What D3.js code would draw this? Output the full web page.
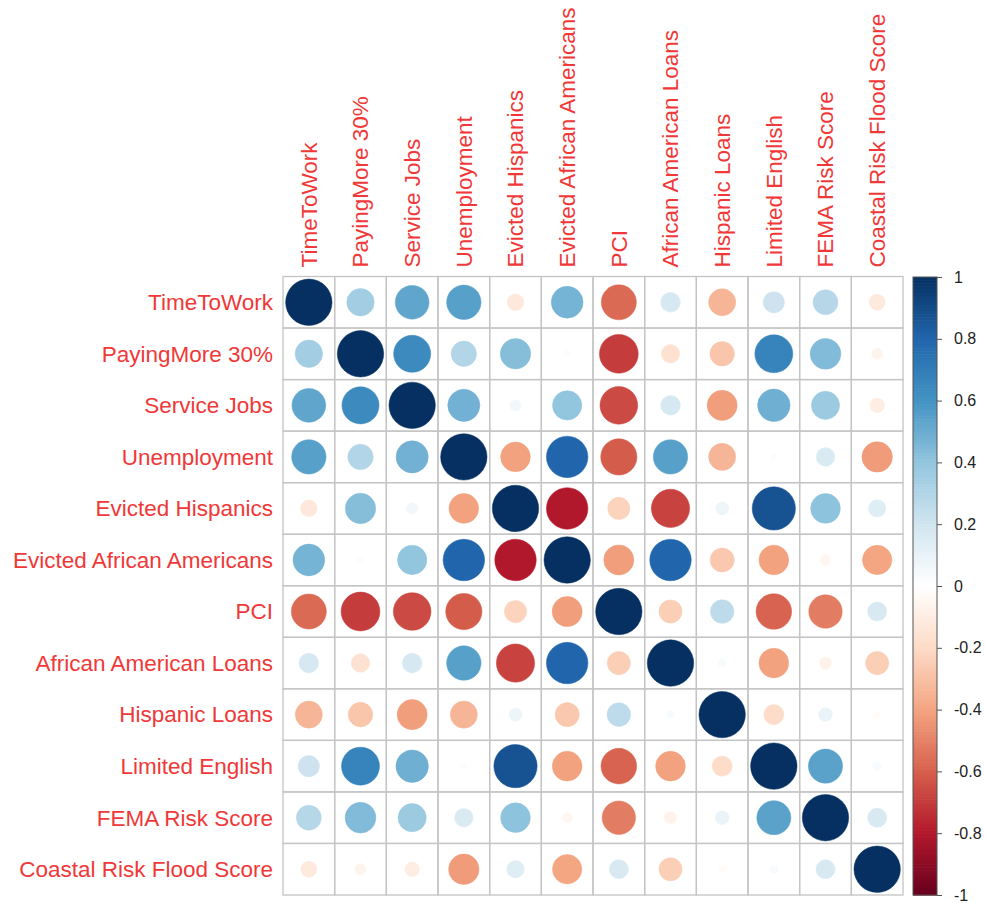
<!DOCTYPE html>
<html>
<head>
<meta charset="utf-8">
<script src="https://cdn.jsdelivr.net/npm/d3@7"></script>
<style>
  html, body { margin: 0; padding: 0; background: #ffffff; }
  svg { display: block; }
  text { font-family: "Liberation Sans", Arial, sans-serif; }
</style>
</head>
<body>
<svg id="chart" width="985" height="903"></svg>
<script>
// Variables shown on both axes (same order for rows and columns)
const variables = [
  "TimeToWork", "PayingMore 30%", "Service Jobs", "Unemployment",
  "Evicted Hispanics", "Evicted African Americans", "PCI",
  "African American Loans", "Hispanic Loans", "Limited English",
  "FEMA Risk Score", "Coastal Risk Flood Score"
];

// Pearson correlation matrix, one row per variable
const correlations = [
  [ 1.00,  0.35,  0.53,  0.55, -0.13,  0.47, -0.57,  0.18, -0.34,  0.21,  0.29, -0.12],
  [ 0.35,  1.00,  0.64,  0.30,  0.43,  0.02, -0.70, -0.16, -0.28,  0.67,  0.44, -0.06],
  [ 0.53,  0.64,  1.00,  0.48,  0.06,  0.40, -0.66,  0.18, -0.42,  0.49,  0.37, -0.10],
  [ 0.55,  0.30,  0.48,  1.00, -0.41,  0.80, -0.61,  0.55, -0.34,  0.02,  0.16, -0.43],
  [-0.13,  0.43,  0.06, -0.41,  1.00, -0.80, -0.23, -0.68,  0.08,  0.87,  0.41,  0.14],
  [ 0.47,  0.02,  0.40,  0.80, -0.80,  1.00, -0.42,  0.80, -0.27, -0.41, -0.05, -0.40],
  [-0.57, -0.70, -0.66, -0.61, -0.23, -0.42,  1.00, -0.25,  0.26, -0.59, -0.52,  0.17],
  [ 0.18, -0.16,  0.18,  0.55, -0.68,  0.80, -0.25,  1.00,  0.03, -0.41, -0.07, -0.25],
  [-0.34, -0.28, -0.42, -0.34,  0.08, -0.27,  0.26,  0.03,  1.00, -0.19,  0.09, -0.02],
  [ 0.21,  0.67,  0.49,  0.02,  0.87, -0.41, -0.59, -0.41, -0.19,  1.00,  0.54,  0.03],
  [ 0.29,  0.44,  0.37,  0.16,  0.41, -0.05, -0.52, -0.07,  0.09,  0.54,  1.00,  0.17],
  [-0.12, -0.06, -0.10, -0.43,  0.14, -0.40,  0.17, -0.25, -0.02,  0.03,  0.17,  1.00]
];

// Colour legend ticks
const legendTicks = [1, 0.8, 0.6, 0.4, 0.2, 0, -0.2, -0.4, -0.6, -0.8, -1];
const legendLabels = ["1", "0.8", "0.6", "0.4", "0.2", "0", "-0.2", "-0.4", "-0.6", "-0.8", "-1"];

// Diverging red-white-blue palette stops
const paletteStops = [-1, -0.8, -0.6, -0.4, -0.2, 0, 0.2, 0.4, 0.6, 0.8, 1];
const paletteColors = ["#67001F", "#B2182B", "#D6604D", "#F4A582", "#FDDBC7", "#FFFFFF",
                       "#D1E5F0", "#92C5DE", "#4393C3", "#2166AC", "#053061"];

const svg = d3.select("#chart");
const labelColor = "#f03838";
const gridColor = "#c4c4c4";
const labelSize = 22.5;

const grid = { left: 283, right: 903, top: 276.5, bottom: 895 };

const x = d3.scaleBand().domain(variables).range([grid.left, grid.right]).padding(0);
const y = d3.scaleBand().domain(variables).range([grid.top, grid.bottom]).padding(0);
const color = d3.scaleLinear().domain(paletteStops).range(paletteColors).clamp(true);
const cell = Math.min(x.bandwidth(), y.bandwidth());
// circle area proportional to |r|
const radius = d3.scaleSqrt().domain([0, 1]).range([0, cell * 0.45]);

const cells = [];
variables.forEach((rv, i) => {
  variables.forEach((cv, j) => {
    cells.push({ row: rv, col: cv, r: correlations[i][j] });
  });
});

// grid cells
svg.append("g")
  .selectAll("rect")
  .data(cells)
  .join("rect")
  .attr("x", d => x(d.col))
  .attr("y", d => y(d.row))
  .attr("width", x.bandwidth())
  .attr("height", y.bandwidth())
  .attr("fill", "none")
  .attr("stroke", gridColor)
  .attr("stroke-width", 1.3);

// correlation circles
svg.append("g")
  .selectAll("circle")
  .data(cells)
  .join("circle")
  .attr("cx", d => x(d.col) + x.bandwidth() / 2)
  .attr("cy", d => y(d.row) + y.bandwidth() / 2)
  .attr("r", d => radius(Math.abs(d.r)))
  .attr("fill", d => color(d.r))
  .attr("stroke", d => color(d.r))
  .attr("stroke-width", 0.5);

// row labels
svg.append("g")
  .selectAll("text")
  .data(variables)
  .join("text")
  .attr("x", grid.left - 10)
  .attr("y", d => y(d) + y.bandwidth() / 2)
  .attr("dy", "0.35em")
  .attr("text-anchor", "end")
  .attr("font-size", labelSize)
  .attr("fill", labelColor)
  .text(d => d);

// column labels (vertical)
svg.append("g")
  .selectAll("text")
  .data(variables)
  .join("text")
  .attr("transform", d => `translate(${x(d) + x.bandwidth() / 2},${grid.top - 9}) rotate(-90)`)
  .attr("dy", "0.35em")
  .attr("text-anchor", "start")
  .attr("font-size", labelSize)
  .attr("fill", labelColor)
  .text(d => d);

// colour legend
const bar = { x: 913, width: 24, top: 277, bottom: 895 };
const legendY = d3.scaleLinear().domain([1, -1]).range([bar.top, bar.bottom]);
const steps = d3.range(200).map(k => 1 - (k + 0.5) * 2 / 200);
const legend = svg.append("g");
legend.selectAll("rect.step")
  .data(steps)
  .join("rect")
  .attr("class", "step")
  .attr("x", bar.x)
  .attr("y", d => legendY(d + 0.005))
  .attr("width", bar.width)
  .attr("height", (bar.bottom - bar.top) / 200 + 0.6)
  .attr("fill", d => color(d));
legend.append("rect")
  .attr("x", bar.x)
  .attr("y", bar.top)
  .attr("width", bar.width)
  .attr("height", bar.bottom - bar.top)
  .attr("fill", "none")
  .attr("stroke", "#555")
  .attr("stroke-width", 1);

const axis = d3.axisRight(legendY)
  .tickValues(legendTicks)
  .tickFormat((d, i) => legendLabels[i])
  .tickSize(5)
  .tickPadding(12);
const axisG = legend.append("g")
  .attr("transform", `translate(${bar.x + bar.width},0)`)
  .call(axis);
axisG.select(".domain").remove();
axisG.selectAll(".tick line").attr("stroke", "#555");
axisG.selectAll(".tick text")
  .attr("font-size", 16)
  .attr("fill", "#222")
  .attr("font-family", "Liberation Sans, Arial, sans-serif")
  .attr("dy", "0.32em");
</script>
</body>
</html>
